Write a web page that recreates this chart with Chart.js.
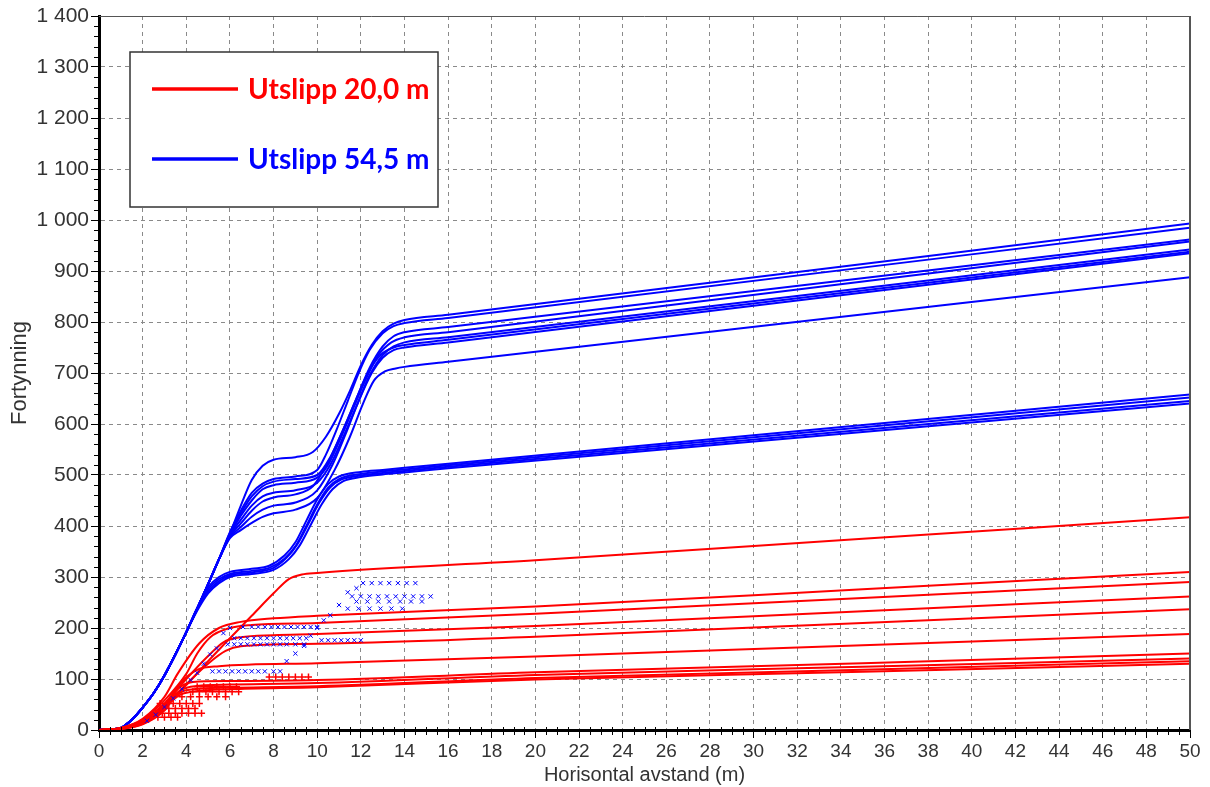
<!DOCTYPE html>
<html>
<head>
<meta charset="utf-8">
<script src="https://cdn.jsdelivr.net/npm/chart.js@4.4.1/dist/chart.umd.min.js"></script>
<style>
  html, body { margin: 0; padding: 0; background: #fff; }
  #wrap { width: 1210px; height: 787px; }
</style>
</head>
<body>
<div id="wrap"><canvas id="chart"></canvas></div>
<script>
// x ticks (m) and y ticks (fortynning)
const xTicks = [0, 2, 4, 6, 8, 10, 12, 14, 16, 18, 20, 22, 24, 26, 28, 30, 32, 34, 36, 38, 40, 42, 44, 46, 48, 50];
const yTicks = [0, 100, 200, 300, 400, 500, 600, 700, 800, 900, 1000, 1100, 1200, 1300, 1400];

const legendLabels = ['Utslipp 20,0 m', 'Utslipp 54,5 m'];

// Utslipp 20,0 m - red curves
const red1 = [[0,0],[1,3],[2,18],[3,48],[4,88],[5,135],[6,180],[7,224],[8,268],[8.7,296],[9.3,305],[10,308],[20,333],[35,375],[50,417]];
const red2 = [[0,0],[1,4],[2,22],[3,65],[3.6,110],[4.6,170],[5.5,200],[6.5,212],[8,219],[10,224],[20,242],[35,276],[50,310]];
const red3 = [[0,0],[1,4],[2,20],[3,58],[4,110],[4.5,150],[5.1,182],[6,200],[7,206],[10,210],[20,228],[35,259],[50,290]];
const red4 = [[0,0],[1,4],[2,18],[3,52],[4,100],[5,145],[5.7,172],[6.5,182],[8,186],[10,188],[20,204],[35,233],[50,262]];
const red5 = [[0,0],[1,3],[2,16],[3,48],[4,90],[5,130],[5.8,155],[6.5,164],[10,169],[20,183],[35,210],[50,237]];
const red6 = [[0,0],[1,3],[2,15],[3,50],[3.8,95],[4.5,118],[5.5,125],[10,131],[20,144],[35,166],[50,188]];
const red7 = [[0,0],[1,3],[2,14],[3,45],[3.6,80],[4.3,94],[6,96],[10,98],[20,113],[35,131],[50,150]];
const red8 = [[0,0],[1,3],[2,13],[3,42],[3.5,70],[4.2,85],[6,89],[10,92],[20,108],[35,124],[50,140]];
const red9 = [[0,0],[1,2],[2,12],[3,40],[3.4,62],[4,78],[6,83],[10,86],[20,102],[35,118],[50,135]];
const red10 = [[0,0],[1,2],[2,11],[3,38],[3.3,55],[3.9,72],[6,80],[10,84],[20,99],[35,114],[50,130]];

// Utslipp 54,5 m - blue curves, upper group
const blue1 = [[0,0],[0.5,1],[1,4],[1.5,20],[2,44],[2.5,72],[3,107],[3.5,148],[4,192],[4.5,238],[5,286],[5.5,335],[6,385],[6.5,440],[7,490],[7.5,518],[8,530],[9,535],[9.8,545],[10.4,575],[11,620],[11.5,665],[12,715],[12.5,755],[13,782],[13.5,797],[14,804],[16,814],[50,993]];
const blue2 = [[0,0],[0.5,1],[1,4],[1.5,20],[2,44],[2.5,72],[3,107],[3.5,148],[4,192],[4.5,238],[5,286],[5.5,335],[6,388],[6.5,430],[7,465],[7.5,483],[8,492],[9,497],[10,510],[10.4,540],[10.9,590],[11.4,645],[11.9,700],[12.4,745],[13,778],[13.5,792],[14,798],[16,808],[50,985]];
const blue3 = [[0,0],[0.5,1],[1,4],[1.5,20],[2,44],[2.5,72],[3,107],[3.5,148],[4,192],[4.5,238],[5,286],[5.5,335],[6,386],[6.5,425],[7,458],[7.5,478],[8,487],[9,492],[10,500],[10.6,535],[11.2,590],[11.8,650],[12.4,710],[13,752],[13.5,772],[14,780],[16,790],[50,962]];
const blue4 = [[0,0],[0.5,1],[1,4],[1.5,20],[2,44],[2.5,72],[3,107],[3.5,148],[4,192],[4.5,238],[5,286],[5.5,335],[6,384],[6.5,420],[7,450],[7.5,472],[8,480],[9,485],[10,495],[10.5,520],[11,565],[11.6,625],[12.2,685],[12.8,735],[13.4,760],[14,770],[16,780],[50,958]];
const blue5 = [[0,0],[0.5,1],[1,4],[1.5,20],[2,44],[2.5,72],[3,107],[3.5,148],[4,192],[4.5,238],[5,286],[5.5,335],[6,382],[6.5,412],[7,440],[7.5,458],[8,465],[9,470],[10,485],[10.6,520],[11.2,575],[11.8,635],[12.4,695],[13,735],[13.5,752],[14,760],[16,770],[50,942]];
const blue6 = [[0,0],[0.5,1],[1,4],[1.5,20],[2,44],[2.5,72],[3,107],[3.5,148],[4,192],[4.5,238],[5,286],[5.5,335],[6,380],[6.5,405],[7,430],[7.5,448],[8,456],[9,462],[9.8,478],[10.5,525],[11.1,580],[11.7,640],[12.3,698],[12.9,735],[13.5,750],[14,755],[16,765],[50,938]];
const blue7 = [[0,0],[0.5,1],[1,4],[1.5,20],[2,44],[2.5,72],[3,107],[3.5,148],[4,192],[4.5,238],[5,286],[5.5,335],[6,378],[6.5,398],[7,418],[7.5,432],[8,440],[9,446],[10,470],[10.7,520],[11.3,580],[11.9,645],[12.5,700],[13,730],[13.5,745],[14,750],[16,760],[50,935]];
const blue8 = [[0,0],[0.5,1],[1,4],[1.5,20],[2,44],[2.5,72],[3,107],[3.5,148],[4,192],[4.5,238],[5,286],[5.5,335],[6,376],[6.5,392],[7,406],[7.5,418],[8,425],[9,432],[10,455],[10.8,510],[11.5,575],[12.1,640],[12.6,685],[13.1,703],[13.6,709],[14,712],[16,722],[50,888]];
// blue curves, lower group
const blue9 = [[0,0],[0.5,1],[1,4],[1.5,20],[2,44],[2.5,72],[3,107],[3.5,148],[4,192],[4.5,240],[5,280],[5.5,300],[6,310],[7,316],[7.8,322],[8.5,342],[9,368],[9.5,410],[10,452],[10.5,482],[11,497],[12,506],[13,510],[14,514],[16,522],[50,658]];
const blue10 = [[0,0],[0.5,1],[1,4],[1.5,20],[2,44],[2.5,72],[3,107],[3.5,148],[4,192],[4.5,238],[5,276],[5.5,296],[6,306],[7,312],[7.8,318],[8.5,336],[9,360],[9.5,400],[10,442],[10.5,475],[11,492],[12,502],[13,507],[14,511],[16,519],[50,652]];
const blue11 = [[0,0],[0.5,1],[1,4],[1.5,20],[2,44],[2.5,72],[3,107],[3.5,148],[4,192],[4.5,236],[5,272],[5.5,292],[6,303],[7,309],[8,318],[8.6,338],[9.1,365],[9.6,405],[10.1,446],[10.6,476],[11.1,491],[12,499],[13,504],[14,508],[16,516],[50,645]];
const blue12 = [[0,0],[0.5,1],[1,4],[1.5,20],[2,44],[2.5,72],[3,107],[3.5,148],[4,192],[4.5,234],[5,268],[5.5,288],[6,300],[7,306],[8,314],[8.7,335],[9.2,362],[9.7,402],[10.2,442],[10.7,472],[11.2,488],[12,496],[13,501],[14,505],[16,513],[50,640]];

// scattered marks (x markers blue, + markers red)
const blueMarks = [
  [6.6,202],[7.0,202],[7.3,202],[7.6,202],[7.9,202],[8.2,202],[8.5,202],[8.8,202],[9.1,202],[9.4,202],[9.7,202],[10.0,202],
  [6.2,180],[6.5,180],[6.8,180],[7.1,180],[7.4,180],[7.7,180],[8.0,180],[8.3,180],[8.6,180],[8.9,180],[9.2,180],[9.5,180],
  [5.9,168],[6.2,168],[6.5,168],[6.8,168],[7.1,168],[7.4,168],[7.7,168],[8.0,168],[8.3,168],[8.6,168],[9.0,168],[9.4,168],
  [5.2,115],[5.5,115],[5.8,115],[6.1,115],[6.4,115],[6.7,115],[7.0,115],[7.3,115],[7.6,115],[8.0,115],[8.3,115],
  [10.2,176],[10.5,176],[10.8,176],[11.1,176],[11.4,176],[11.7,176],[12.0,176],
  [12.1,288],[12.5,288],[12.9,288],[13.3,288],[13.7,288],[14.1,288],[14.5,288],
  [11.6,262],[12.0,262],[12.4,262],[12.8,262],[13.2,262],[13.6,262],[14.0,262],[14.4,262],[14.8,262],[15.2,262],
  [11.8,252],[12.3,252],[12.8,252],[13.3,252],[13.8,252],[14.3,252],[14.8,252],
  [11.4,238],[11.9,238],[12.4,238],[12.9,238],[13.4,238],[13.9,238],
  [2.2,18],[2.6,30],[3.0,45],[3.4,62],[3.8,80],[4.2,98],[4.5,112],[4.8,130],[5.1,148],[5.4,160],[5.7,190],[6.0,200],
  [8.6,135],[9.0,150],[9.4,165],[9.7,185],[10.0,200],[10.3,215],[10.6,225],[11.0,245],[11.4,270],[11.8,278]
];
const redMarks = [
  [7.8,104],[8.1,104],[8.4,104],[8.7,104],[9.0,104],[9.3,104],[9.6,104],
  [4.5,85],[4.8,85],[5.1,85],[5.4,85],[5.7,85],[6.0,85],[6.3,85],
  [4.3,75],[4.6,75],[4.9,75],[5.2,75],[5.5,75],[5.8,75],[6.1,75],[6.4,75],
  [3.4,65],[3.8,65],[4.2,65],[4.6,65],[5.0,65],[5.4,65],[5.8,65],
  [2.8,52],[3.1,52],[3.4,52],[3.7,52],[4.0,52],[4.3,52],[4.6,52],
  [2.9,42],[3.2,42],[3.5,42],[3.8,42],[4.1,42],[4.4,42],
  [2.6,33],[2.9,33],[3.2,33],[3.5,33],[3.8,33],[4.1,33],[4.4,33],[4.7,33],
  [2.4,25],[2.7,25],[3.0,25],[3.3,25],[3.6,25]
];

const RED = '#ff0000';
const BLUE = '#0000ff';

function pts(arr) {
  return arr.map(p => ({x: p[0], y: p[1]}));
}

function lineSet(arr, color) {
  return {
    data: pts(arr),
    showLine: true,
    borderColor: color,
    backgroundColor: color,
    borderWidth: 2,
    pointRadius: 0,
    cubicInterpolationMode: 'monotone'
  };
}

function fmtY(v) {
  if (v >= 1000) return Math.floor(v / 1000) + ' ' + String(v % 1000).padStart(3, '0');
  return String(v);
}

// frame, minor ticks and the boxed legend
const extras = {
  id: 'extras',
  afterDraw(chart) {
    const ctx = chart.ctx;
    const a = chart.chartArea;
    const xs = chart.scales.x, ys = chart.scales.y;
    ctx.save();
    // top + right frame
    ctx.strokeStyle = '#555';
    ctx.lineWidth = 1;
    ctx.beginPath();
    ctx.moveTo(a.left, a.top + 0.5);
    ctx.lineTo(a.right, a.top + 0.5);
    ctx.stroke();
    ctx.lineWidth = 2;
    ctx.beginPath();
    ctx.moveTo(a.right, a.top);
    ctx.lineTo(a.right, a.bottom);
    ctx.stroke();
    // minor ticks
    ctx.strokeStyle = '#000';
    ctx.lineWidth = 1;
    ctx.beginPath();
    for (let v = 20; v < 1400; v += 20) {
      if (v % 100 === 0) continue;
      const py = Math.round(ys.getPixelForValue(v)) + 0.5;
      ctx.moveTo(a.left - 5, py);
      ctx.lineTo(a.left, py);
    }
    for (let v = 0.5; v < 50; v += 0.5) {
      if (v % 2 === 0) continue;
      const px = Math.round(xs.getPixelForValue(v)) + 0.5;
      ctx.moveTo(px, a.bottom - 3);
      ctx.lineTo(px, a.bottom + 5);
    }
    ctx.stroke();
    // legend box
    const bx = a.left + 31, by = a.top + 36, bw = 308, bh = 155;
    ctx.fillStyle = '#fff';
    ctx.fillRect(bx, by, bw, bh);
    ctx.strokeStyle = '#333';
    ctx.lineWidth = 1.5;
    ctx.strokeRect(bx, by, bw, bh);
    const rows = [[legendLabels[0], RED, 37], [legendLabels[1], BLUE, 107]];
    ctx.font = 'bold 28px Lato';
    ctx.textBaseline = 'middle';
    rows.forEach(r => {
      ctx.strokeStyle = r[1];
      ctx.lineWidth = 3.5;
      ctx.beginPath();
      ctx.moveTo(bx + 22, by + r[2]);
      ctx.lineTo(bx + 108, by + r[2]);
      ctx.stroke();
      ctx.fillStyle = r[1];
      ctx.fillText(r[0], bx + 118, by + r[2] + 1);
    });
    ctx.restore();
  }
};

const datasets = [
  {data: pts(blueMarks), pointStyle: 'crossRot', pointRadius: 3, borderWidth: 1, borderColor: BLUE, backgroundColor: BLUE},
  {data: pts(redMarks), pointStyle: 'cross', pointRadius: 3.5, borderWidth: 1.5, borderColor: RED, backgroundColor: RED},
  lineSet(red1, RED), lineSet(red2, RED), lineSet(red3, RED), lineSet(red4, RED), lineSet(red5, RED),
  lineSet(red6, RED), lineSet(red7, RED), lineSet(red8, RED), lineSet(red9, RED), lineSet(red10, RED),
  lineSet(blue1, BLUE), lineSet(blue2, BLUE), lineSet(blue3, BLUE), lineSet(blue4, BLUE),
  lineSet(blue5, BLUE), lineSet(blue6, BLUE), lineSet(blue7, BLUE), lineSet(blue8, BLUE),
  lineSet(blue9, BLUE), lineSet(blue10, BLUE), lineSet(blue11, BLUE), lineSet(blue12, BLUE)
];

var config = {
  type: 'scatter',
  data: { datasets: datasets },
  options: {
    responsive: true,
    maintainAspectRatio: false,
    animation: false,
    layout: { padding: { top: 16, right: 20, left: 0, bottom: 0 } },
    plugins: { legend: { display: false }, tooltip: { enabled: false } },
    scales: {
      x: {
        type: 'linear',
        min: 0, max: 50,
        afterBuildTicks: (s) => { s.ticks = xTicks.map(v => ({value: v})); },
        afterFit: (s) => { s.height = 57; },
        ticks: { color: '#333', padding: 2, maxRotation: 0, autoSkip: false,
                 font: { family: '"Liberation Sans Narrow", "Liberation Sans", Arial', size: 19 } },
        grid: { color: '#8a8a8a', tickColor: '#000', tickLength: 8, lineWidth: 1 },
        border: { display: true, color: '#000', width: 3, dash: [4, 4] },
        title: { display: true, text: 'Horisontal avstand (m)', color: '#333', padding: 0,
                 font: { family: '"Liberation Sans Narrow", "Liberation Sans", Arial', size: 20 } }
      },
      y: {
        type: 'linear',
        min: 0, max: 1400,
        afterBuildTicks: (s) => { s.ticks = yTicks.map(v => ({value: v})); },
        afterFit: (s) => { s.width = 99; },
        ticks: { color: '#333', padding: 2, callback: fmtY,
                 font: { family: '"Liberation Sans", Arial', size: 21 } },
        grid: { color: '#8a8a8a', tickColor: '#000', tickLength: 8, lineWidth: 1 },
        border: { display: true, color: '#000', width: 3, dash: [4, 4] },
        title: { display: true, text: 'Fortynning', color: '#333', padding: { top: 7, bottom: 0 },
                 font: { family: '"Liberation Sans", Arial', size: 22 } }
      }
    }
  },
  plugins: [extras]
};

new Chart(document.getElementById('chart'), config);
</script>
</body>
</html>
